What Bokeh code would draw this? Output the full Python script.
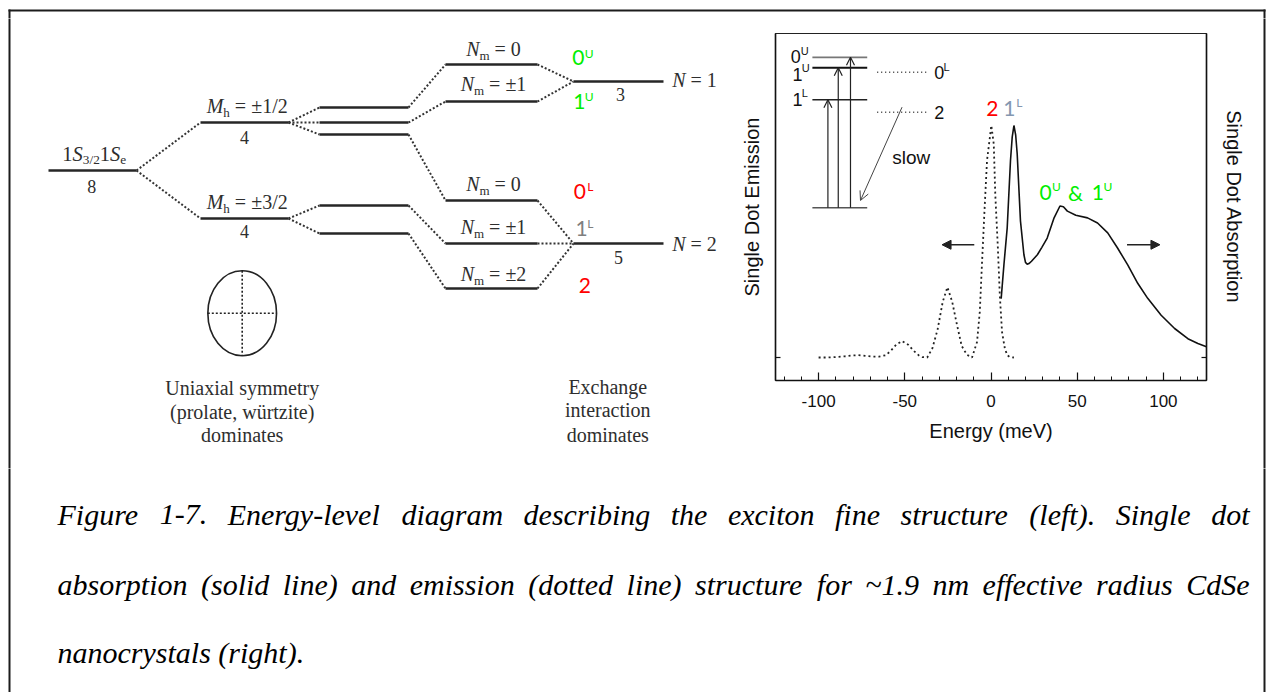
from bokeh.plotting import figure
from bokeh.layouts import column, row
from bokeh.models import (ColumnDataSource, Range1d, LinearAxis, FixedTicker,
                          Arrow, OpenHead, NormalHead)
from bokeh.core.properties import value, field
from bokeh.embed import file_html
from bokeh.resources import INLINE

# ================= DATA =================
# --- right panel: single-dot emission (dotted) and absorption (solid) ---
energy_em = [-100, -95, -90, -85, -80, -77, -73, -69, -65, -61, -58, -55, -51.6, -48, -45,
             -42, -39.9, -37, -34, -31, -28, -25.3, -22.5, -20, -17, -14, -11, -8.1, -6.5,
             -5.2, -3.8, -2.3, 0.2, 1.6, 2.5, 3.9, 5.1, 6.4, 8, 9.4, 11, 13.3]
emission = [0, 0, 0.002, 0.005, 0.009, 0.01, 0.007, 0.004, 0.004, 0.01, 0.03, 0.055, 0.071,
            0.055, 0.03, 0.01, 0.002, 0, 0.04, 0.12, 0.24, 0.303, 0.24, 0.15, 0.05, 0.012, 0,
            0.067, 0.197, 0.41, 0.63, 0.85, 1.0, 0.92, 0.70, 0.486, 0.27, 0.11, 0.04, 0.01,
            0.002, 0]
energy_abs = [5.9, 7.5, 9.4, 11.3, 12.3, 13.3, 14.3, 15.2, 17.1, 19.1, 20.0, 21.0, 22.0, 23.5,
              26.9, 29.5, 32.6, 36.6, 40.0, 42.0, 44.3, 49.2, 56.0, 61.8, 67.7, 73.4, 79.3,
              85.1, 90.9, 98.7, 106.5, 114.2, 120.0, 125.0]
absorption = [0.254, 0.40, 0.559, 0.848, 0.95, 1.0, 0.96, 0.877, 0.588, 0.443, 0.41, 0.402,
              0.405, 0.415, 0.443, 0.475, 0.515, 0.602, 0.653, 0.65, 0.631, 0.613, 0.602, 0.58,
              0.537, 0.472, 0.399, 0.32, 0.255, 0.182, 0.125, 0.081, 0.06, 0.046]
x_ticks = [-100, -50, 0, 50, 100]
x_tick_labels = ["-100", "-50", "0", "50", "100"]
x_title = "Energy (meV)"
y_left_title = "Single Dot Emission"
y_right_title = "Single Dot Absorption"

# inset level scheme drawn inside the spectrum panel (plot units)
inset_level_names = ["0U", "1U", "1L", "ground"]
inset_level_energy = [1.294, 1.249, 1.111, 0.645]
inset_dark_names = ["0L", "2"]
inset_dark_energy = [1.230, 1.057]
inset_excite_x = [-94.6, -88.6, -81.5]
inset_excite_target = [1.111, 1.249, 1.294]

# --- left panel: exciton fine-structure level diagram (diagram units) ---
level_names = ["1S3/2 1Se", "Mh=±1/2", "Mh=±3/2", "a", "b", "c", "d", "e",
               "Nm=0 U", "Nm=±1 U", "Nm=0 L", "Nm=±1 L", "Nm=±2", "N=1", "N=2"]
level_x0 = [48, 200, 200, 319, 319, 319, 319, 319, 445, 445, 445, 445, 445, 573, 573]
level_x1 = [136, 288, 288, 408, 408, 408, 408, 408, 537, 537, 537, 537, 537, 663, 663]
level_y = [170, 122, 218, 107, 122, 134, 205, 233, 64, 101, 200, 243, 288, 81, 243]
link_from = [0, 0, 1, 1, 1, 2, 2, 3, 4, 5, 6, 7, 8, 9, 10, 11, 12]
link_to = [1, 2, 3, 4, 5, 6, 7, 8, 9, 10, 11, 12, 13, 13, 14, 14, 14]

caption_lines = [
    "Figure 1-7. Energy-level diagram describing the exciton fine structure (left). Single dot",
    "absorption (solid line) and emission (dotted line) structure for ~1.9 nm effective radius CdSe",
    "nanocrystals (right).",
]
caption_justify = [True, True, False]

# ================= STYLE / HELPERS =================
SERIF = "Liberation Serif"
SANS = "Liberation Sans"
CAL = "Lato"
BORDER = "#1c1c1c"
GREEN = "#00ee00"
RED = "#ff0000"
GRAY = "#7f7f7f"
BLUEGRAY = "#8497b0"
K = 0.34          # shift from baseline to the visual centre of a text, in em
PX = 1.0 / 232.0  # one pixel in spectrum intensity units

TR = {' ': 250, '=': 564, '±': 549, '/': 278, 'e': 444, 'h': 500, 'm': 778}
for d in "0123456789":
    TR[d] = 500
TI = {' ': 250, '(': 333, ')': 333, '-': 333, '.': 250, '~': 541, 'C': 667, 'E': 611,
      'F': 611, 'S': 500, 'M': 833, 'N': 667,
      'a': 500, 'b': 500, 'c': 444, 'd': 500, 'e': 444, 'f': 278, 'g': 500, 'h': 500,
      'i': 278, 'j': 278, 'k': 444, 'l': 278, 'm': 722, 'n': 500, 'o': 500, 'p': 500,
      'q': 500, 'r': 389, 's': 389, 't': 278, 'u': 500, 'v': 444, 'w': 667, 'x': 444,
      'y': 444, 'z': 389}
for d in "0123456789":
    TI[d] = 500


def width(s, table, size):
    return sum(table.get(c, 500) for c in s) * size / 1000.0


def blank(w, h, xr, yr):
    f = figure(width=w, height=h, x_range=Range1d(*xr), y_range=Range1d(*yr),
               min_border=0, toolbar_location=None, output_backend="svg",
               x_axis_location=None, y_axis_location=None, frame_align=False)
    f.outline_line_color = None
    f.grid.visible = False
    return f


W, H = 1267, 692
TOP_H, ROW_H = 18, 450
ROW_Y1 = TOP_H + ROW_H
DIAG_W, SPEC_W = 730, 523
RS_X0 = DIAG_W + SPEC_W
RIGHT_X = 1264

# ================= TOP STRIP (frame) =================
top = blank(W, TOP_H, (0, W), (TOP_H, 0))
top.segment(x0=[9, 8, RIGHT_X], y0=[9, 10, 9], x1=[9, RIGHT_X + 1, RIGHT_X],
            y1=[TOP_H + 2, 10, TOP_H + 2], line_color=BORDER, line_width=2)

# ================= LEFT DIAGRAM =================
diag = blank(DIAG_W, ROW_H, (0, DIAG_W), (ROW_Y1, TOP_H))
diag.segment(x0=[9], y0=[TOP_H - 2], x1=[9], y1=[ROW_Y1 + 2], line_color=BORDER, line_width=2)

lsrc = ColumnDataSource(dict(x0=level_x0, x1=level_x1, y=level_y))
diag.segment(x0="x0", y0="y", x1="x1", y1="y", source=lsrc, line_width=2.5,
             line_color="#262626")
csrc = ColumnDataSource(dict(
    x0=[level_x1[i] for i in link_from], y0=[level_y[i] for i in link_from],
    x1=[level_x0[j] for j in link_to], y1=[level_y[j] for j in link_to]))
diag.segment(x0="x0", y0="y0", x1="x1", y1="y1", source=csrc, line_width=2,
             line_dash="2 2", line_color="#333333")


def compose(segs, x, base, size, align="center"):
    ws = []
    for txt, style, f, dy in segs:
        ws.append(width(txt, TI if style == "italic" else TR, size * f))
    if align == "center":
        x = x - sum(ws) / 2.0
    out = []
    for (txt, style, f, dy), w in zip(segs, ws):
        stripped = txt.lstrip(" ")
        lead = (len(txt) - len(stripped)) * 250 * size * f / 1000.0
        out.append((x + lead, base + dy - K * size * f, stripped, style,
                    "%.1fpx" % (size * f)))
        x += w
    return out


n_, i_ = "normal", "italic"
pieces = []
pieces += compose([("1", n_, 1, 0), ("S", i_, 1, 0), ("3/2", n_, .65, 4), ("1", n_, 1, 0),
                   ("S", i_, 1, 0), ("e", n_, .65, 4)], 93.8, 160, 20.5)
pieces += compose([("8", n_, 1, 0)], 91.3, 191.7, 18)
pieces += compose([("M", i_, 1, 0), ("h", n_, .65, 4), (" = ±1/2", n_, 1, 0)], 246.7, 112.7, 20)
pieces += compose([("4", n_, 1, 0)], 244, 142.7, 18)
pieces += compose([("M", i_, 1, 0), ("h", n_, .65, 4), (" = ±3/2", n_, 1, 0)], 246.7, 208.3, 20)
pieces += compose([("4", n_, 1, 0)], 244, 236.7, 18)
for txt, base in [(" = 0", 55), (" = ±1", 90), (" = 0", 190), (" = ±1", 233.3), (" = ±2", 280)]:
    pieces += compose([("N", i_, 1, 0), ("m", n_, .65, 4), (txt, n_, 1, 0)], 493, base, 20)
pieces += compose([("3", n_, 1, 0)], 620, 100, 18)
pieces += compose([("5", n_, 1, 0)], 618, 263, 18)
pieces += compose([("N", i_, 1, 0), (" = 1", n_, 1, 0)], 671.7, 86.7, 20, "left")
pieces += compose([("N", i_, 1, 0), (" = 2", n_, 1, 0)], 671.7, 250, 20, "left")
tsrc = ColumnDataSource(dict(x=[p[0] for p in pieces], y=[p[1] for p in pieces],
                             text=[p[2] for p in pieces], style=[p[3] for p in pieces],
                             size=[p[4] for p in pieces]))
diag.text(x="x", y="y", text="text", source=tsrc, text_font=value(SERIF),
          text_font_size=field("size"), text_font_style=field("style"),
          text_color="#2e2e2e", text_baseline="alphabetic", text_align="left")

# coloured state labels (Calibri-like)
cl_base = [64, 56.7, 108.3, 100, 198.3, 190, 235, 226.7, 291.7]
cl_size = [21, 12, 21, 12, 21, 12, 21, 12, 21]
col_lab = dict(
    x=[571.7, 584.3, 572.7, 584.3, 573.3, 586.7, 575, 586.7, 578.3],
    y=[b - K * s for b, s in zip(cl_base, cl_size)],
    text=["0", "U", "1", "U", "0", "L", "1", "L", "2"],
    color=[GREEN, GREEN, GREEN, GREEN, RED, RED, GRAY, GRAY, RED],
    size=["%dpx" % s for s in cl_size])
diag.text(x="x", y="y", text="text", source=ColumnDataSource(col_lab),
          text_font=value(CAL), text_font_size=field("size"), text_color="color",
          text_baseline="alphabetic", text_align="left")

# prolate ellipse sketch
diag.ellipse(x=[241.7], y=[312.7], width=[68.7], height=[85], width_units="screen",
             height_units="screen", fill_color=None, line_color="#222222", line_width=1.6)
diag.segment(x0=[207.3, 241.7], y0=[312.7, 270.2], x1=[276, 241.7], y1=[312.7, 355.2],
             line_dash="2 2", line_width=1.6, line_color="#222222")

diag.text(x=[241.7] * 3, y=[394 - K * 20, 418.3 - K * 20, 441.7 - K * 20],
          text=["Uniaxial symmetry", "(prolate, würtzite)", "dominates"],
          text_font=value(SERIF), text_font_size="20px", text_color="#2e2e2e",
          text_align="center", text_baseline="alphabetic")
diag.text(x=[607.3] * 3, y=[393.3 - K * 20, 416.7 - K * 20, 441.7 - K * 20],
          text=["Exchange", "interaction", "dominates"],
          text_font=value(SERIF), text_font_size="20px", text_color="#2e2e2e",
          text_align="center", text_baseline="alphabetic")

# ================= RIGHT SPECTRUM PANEL =================
spec = figure(width=SPEC_W, height=ROW_H, x_range=Range1d(-125, 125),
              y_range=Range1d(-0.0991, 1.3966),
              min_border_left=45, min_border_right=47, min_border_top=15,
              min_border_bottom=88, toolbar_location=None, output_backend="svg",
              frame_align=False)
spec.grid.visible = False
spec.outline_line_color = "#222222"
spec.outline_line_width = 1.2


def style_axis(ax):
    ax.axis_line_color = "#111111"
    ax.axis_line_width = 1.5
    ax.major_tick_line_color = "#111111"
    ax.major_tick_line_width = 1.2
    ax.minor_tick_line_color = "#111111"
    ax.major_tick_out = 0
    ax.minor_tick_out = 0
    ax.axis_label_text_font = SANS
    ax.axis_label_text_font_style = "normal"
    ax.axis_label_text_font_size = "20px"
    ax.axis_label_text_color = "#111111"
    ax.major_label_text_font = SANS
    ax.major_label_text_color = "#111111"


xa = spec.xaxis[0]
style_axis(xa)
xa.ticker = FixedTicker(ticks=x_ticks, minor_ticks=list(range(-120, 130, 10)))
xa.major_label_overrides = {t: s for t, s in zip(x_ticks, x_tick_labels)}
xa.major_tick_in = 8
xa.minor_tick_in = 4
xa.major_label_text_font_size = "17px"
xa.major_label_standoff = 14
xa.axis_label = x_title
xa.axis_label_standoff = 10

ya = spec.yaxis[0]
style_axis(ya)
ya.ticker = FixedTicker(ticks=[0], minor_ticks=[])
ya.major_label_overrides = {0: ""}
ya.major_label_text_color = None
ya.major_tick_in = 5
ya.major_label_standoff = 0
ya.axis_label = y_left_title
ya.axis_label_standoff = 13

yr = LinearAxis(ticker=FixedTicker(ticks=[0], minor_ticks=[]))
style_axis(yr)
yr.major_label_overrides = {0: ""}
yr.major_label_text_color = None
yr.major_tick_in = 5
yr.major_label_standoff = 0
yr.axis_label = y_right_title
yr.axis_label_standoff = 16
spec.add_layout(yr, "right")

spec.line(energy_em, emission, line_dash="2 3", line_width=1.8, line_color="#222222")
spec.line(energy_abs, absorption, line_width=1.6, line_color="#111111")

# inset level scheme
spec.segment(x0=[-103.6] * 4, y0=inset_level_energy, x1=[-71.8] * 4, y1=inset_level_energy,
             line_color=["#777777", "#111111", "#222222", "#555555"],
             line_width=[1.8, 2.0, 1.6, 1.5])
spec.segment(x0=[-66.0] * 2, y0=inset_dark_energy, x1=[-36.2] * 2, y1=inset_dark_energy,
             line_dash="1 3", line_width=1.5, line_color="#333333")
asrc = ColumnDataSource(dict(x0=inset_excite_x, y0=[inset_level_energy[3]] * 3,
                             x1=inset_excite_x, y1=inset_excite_target))
spec.add_layout(Arrow(end=OpenHead(size=8, line_width=1.2, line_color="#222222"),
                      x_start="x0", y_start="y0", x_end="x1", y_end="y1", source=asrc,
                      line_width=1.2, line_color="#222222"))
spec.add_layout(Arrow(end=OpenHead(size=9, line_width=1, line_color="#444444"),
                      x_start=-51.6, y_start=1.079, x_end=-75.7, y_end=0.677,
                      line_width=1, line_color="#444444"))
spec.add_layout(Arrow(end=NormalHead(size=9, fill_color="#222222", line_color="#222222"),
                      x_start=-9.7, y_start=0.486, x_end=-28.4, y_end=0.486,
                      line_width=1.5, line_color="#222222"))
spec.add_layout(Arrow(end=NormalHead(size=9, fill_color="#222222", line_color="#222222"),
                      x_start=78.9, y_start=0.486, x_end=98.0, y_end=0.486,
                      line_width=1.5, line_color="#222222"))

il_base = [1.273, 1.306, 1.194, 1.230, 1.086, 1.125, 1.201, 1.237, 1.029, 0.835]
il_size = [18, 11, 18, 11, 18, 11, 18, 11, 18, 19]
inset_lab = dict(
    x=[-116.2, -110.3, -115.2, -109.8, -115.2, -109.8, -32.9, -27.5, -32.9, -57.3],
    y=[b + K * s * PX for b, s in zip(il_base, il_size)],
    text=["0", "U", "1", "U", "1", "L", "0", "L", "2", "slow"],
    size=["%dpx" % s for s in il_size])
spec.text(x="x", y="y", text="text", source=ColumnDataSource(inset_lab),
          text_font=value(SANS), text_font_size=field("size"), text_color="#111111",
          text_baseline="alphabetic", text_align="left")

pl_base = [1.043, 1.043, 1.08, 0.681, 0.718, 0.681, 0.681, 0.718]
pl_size = [21, 21, 12, 21, 12, 21, 21, 12]
peak_lab = dict(
    x=[-2.8, 7.1, 14.6, 28.2, 35.4, 44.6, 58.4, 65.3],
    y=[b + K * s * PX for b, s in zip(pl_base, pl_size)],
    text=["2", "1", "L", "0", "U", "&", "1", "U"],
    color=[RED, BLUEGRAY, BLUEGRAY, GREEN, GREEN, GREEN, GREEN, GREEN],
    size=["%dpx" % s for s in pl_size])
spec.text(x="x", y="y", text="text", source=ColumnDataSource(peak_lab),
          text_font=value(CAL), text_font_size=field("size"), text_color="color",
          text_baseline="alphabetic", text_align="left")

# right strip carrying the frame's right edge
rstrip = blank(W - RS_X0, ROW_H, (RS_X0, W), (ROW_Y1, TOP_H))
rstrip.segment(x0=[RIGHT_X], y0=[TOP_H - 2], x1=[RIGHT_X], y1=[ROW_Y1 + 2],
               line_color=BORDER, line_width=2)

# ================= CAPTION =================
cap = blank(W, H - ROW_Y1, (0, W), (H, ROW_Y1))
cap.segment(x0=[9, RIGHT_X], y0=[ROW_Y1 - 2, ROW_Y1 - 2], x1=[9, RIGHT_X], y1=[H + 2, H + 2],
            line_color=BORDER, line_width=2)
cap_size = 30
cap_x0, cap_x1 = 57, 1249
cap_base = [524, 594, 662]
cx, cy, ct = [], [], []
for line, base, just in zip(caption_lines, cap_base, caption_justify):
    yy = base - K * cap_size
    if just:
        words = line.split(" ")
        ws = [width(w, TI, cap_size) for w in words]
        gap = (cap_x1 - cap_x0 - sum(ws)) / (len(words) - 1)
        x = cap_x0
        for w, ww in zip(words, ws):
            cx.append(x)
            cy.append(yy)
            ct.append(w)
            x += ww + gap
    else:
        cx.append(cap_x0)
        cy.append(yy)
        ct.append(line)
cap.text(x=cx, y=cy, text=ct, text_font=value(SERIF), text_font_size="%dpx" % cap_size,
         text_font_style="italic", text_color="#000000", text_baseline="alphabetic",
         text_align="left")

layout = column(top, row(diag, spec, rstrip), cap)
open("out.html", "w").write(file_html(layout, INLINE))
